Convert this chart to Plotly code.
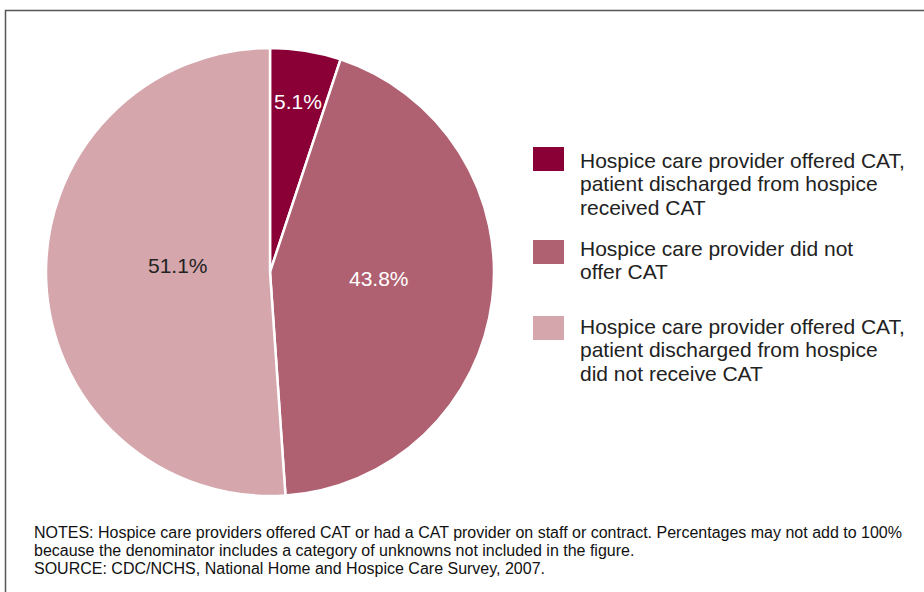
import math
import plotly.graph_objects as go

categories = [
    "Hospice care provider offered CAT, patient discharged from hospice received CAT",
    "Hospice care provider did not offer CAT",
    "Hospice care provider offered CAT, patient discharged from hospice did not receive CAT",
]
legend_lines = [
    ["Hospice care provider offered CAT,", "patient discharged from hospice", "received CAT"],
    ["Hospice care provider did not", "offer CAT"],
    ["Hospice care provider offered CAT,", "patient discharged from hospice", "did not receive CAT"],
]
values = [5.1, 43.8, 51.1]
colors = ["#8a0036", "#b06171", "#d5a6ab"]
label_colors = ["#ffffff", "#ffffff", "#222222"]

notes_lines = [
    "NOTES: Hospice care providers offered CAT or had a CAT provider on staff or contract. Percentages may not add to 100%",
    "because the denominator includes a category of unknowns not included in the figure.",
    "SOURCE: CDC/NCHS, National Home and Hospice Care Survey, 2007.",
]

# ---- layout / style (pixels) ----
W, H = 924, 592
cx, cy, r = 270, 272, 224
label_radius = [0.77, 0.49, 0.41]         # fraction of radius for each slice label
label_dy = [0, -7, -10]                   # small vertical nudge for each slice label
legend_top = [160, 248, 326]              # center of first text line of each legend item
legend_box = [(147, 171), (240, 264), (316, 340)]
legend_line_step = 23.5
notes_y = [532, 550, 568]


def px(x):
    return x / W


def py(y):
    return (H - y) / H


fig = go.Figure(go.Pie(
    labels=categories,
    values=values,
    sort=False,
    direction="clockwise",
    rotation=0,
    marker=dict(colors=colors, line=dict(color="white", width=2.5)),
    textinfo="none",
    hoverinfo="label+percent",
    showlegend=False,
    domain=dict(x=[px(cx - r), px(cx + r)], y=[py(cy + r), py(cy - r)]),
))

# slice labels, placed at each slice's mid angle
total = sum(values)
cum = 0.0
for v, frac, dy, c in zip(values, label_radius, label_dy, label_colors):
    mid = (cum + v / 2) / total * 2 * math.pi
    cum += v
    lx = cx + frac * r * math.sin(mid)
    ly = cy - frac * r * math.cos(mid) + dy
    fig.add_annotation(text=f"{v:.1f}%", x=px(lx), y=py(ly), xref="paper", yref="paper",
                       showarrow=False, xanchor="center", yanchor="middle",
                       font=dict(family="Liberation Sans, Arial", size=21, color=c))

# legend
for lines, top, (b0, b1), col in zip(legend_lines, legend_top, legend_box, colors):
    fig.add_shape(type="rect", xref="paper", yref="paper",
                  x0=px(533), x1=px(564), y0=py(b1), y1=py(b0),
                  fillcolor=col, line=dict(width=0))
    for i, line in enumerate(lines):
        fig.add_annotation(text=line, x=px(578), y=py(top + i * legend_line_step),
                           xref="paper", yref="paper", showarrow=False,
                           xanchor="left", yanchor="middle",
                           font=dict(family="Liberation Sans, Arial", size=21, color="#222222"))

# frame
fig.add_shape(type="rect", xref="paper", yref="paper",
              x0=px(5.5), x1=1.02, y0=-0.02, y1=py(10.5),
              line=dict(color="#555555", width=1.5), fillcolor="rgba(0,0,0,0)")

# notes
for line, y in zip(notes_lines, notes_y):
    fig.add_annotation(text=line, xref="paper", yref="paper", x=px(32), y=py(y),
                       xanchor="left", yanchor="middle", showarrow=False,
                       font=dict(family="Liberation Sans Narrow, Arial Narrow, Liberation Sans",
                                 size=16, color="#111111"))

fig.update_layout(
    width=W, height=H,
    margin=dict(l=0, r=0, t=0, b=0),
    paper_bgcolor="white",
    plot_bgcolor="white",
    font=dict(family="Liberation Sans, Arial"),
)

fig.write_html("out.html", config={"displayModeBar": False},
               post_script="document.body.style.margin='0';")
